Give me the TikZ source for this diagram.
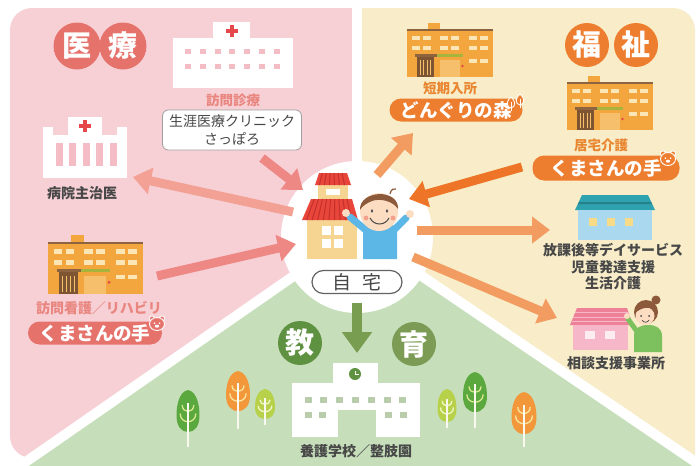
\documentclass[tikz,border=0pt]{standalone}
\usepackage{fontspec}
\setmainfont{Noto Sans CJK JP}
\usetikzlibrary{arrows.meta}

\definecolor{pinkbg}{HTML}{F7D0D6}
\definecolor{yellowbg}{HTML}{F8EDC8}
\definecolor{greenbg}{HTML}{C6DFBA}
\definecolor{medred}{HTML}{E5736C}
\definecolor{welforange}{HTML}{EE7E2F}
\definecolor{edudark}{HTML}{5E9140}
\definecolor{eduolive}{HTML}{7C9C55}
\definecolor{salmontext}{HTML}{E98680}
\definecolor{orangetext}{HTML}{E98631}
\definecolor{darktext}{HTML}{474747}
\definecolor{winpink}{HTML}{F4BDC6}
\definecolor{crossred}{HTML}{E5474A}
\definecolor{bldorange}{HTML}{F2A63D}
\definecolor{bldbrown}{HTML}{8E6440}
\definecolor{wincream}{HTML}{FCE6B6}
\definecolor{awngreen}{HTML}{A6B43E}
\definecolor{doorbrown}{HTML}{7E5532}
\definecolor{openorange}{HTML}{F6BF6C}
\definecolor{roofred}{HTML}{E8453B}
\definecolor{roofdark}{HTML}{C4302A}
\definecolor{housetan}{HTML}{F6D492}
\definecolor{skin}{HTML}{FCDDC2}
\definecolor{hairbrown}{HTML}{8C5A3A}
\definecolor{shirtblue}{HTML}{5DB7E6}
\definecolor{arrpink}{HTML}{EE8884}
\definecolor{arrpinklight}{HTML}{F2A194}
\definecolor{arrorange}{HTML}{F39C62}
\definecolor{arrorangedark}{HTML}{EE7527}
\definecolor{arrgreen}{HTML}{789C50}
\definecolor{roofteal}{HTML}{2EA2AE}
\definecolor{houseblue}{HTML}{AAD9EF}
\definecolor{winyellow}{HTML}{F8DB86}
\definecolor{roofpink}{HTML}{EE8198}
\definecolor{housepink}{HTML}{F6B8C9}
\definecolor{shirtgreen}{HTML}{7DC15E}
\definecolor{leafgreen}{HTML}{5BA83E}
\definecolor{leaforange}{HTML}{F2983A}
\definecolor{leaflime}{HTML}{B7D14B}
\definecolor{branchgreen}{HTML}{D8EA8E}
\definecolor{branchorange}{HTML}{FBE6A2}
\definecolor{branchlime}{HTML}{F1F6C4}
\definecolor{trunkwhite}{HTML}{F8F8EE}
\definecolor{schoolwin}{HTML}{B9CCAC}

\newcommand\jfs[1]{\fontsize{#1}{#1}\selectfont}

% orange apartment block, origin at top-left
\newcommand\aptbldg[3]{%
  \begin{scope}[shift={(#1,#2)},scale=#3]
    \fill[bldorange] (21,0) rectangle (33,8);
    \fill[bldorange] (0,6) rectangle (86,54);
    \fill[bldbrown] (0,6) rectangle (86,8.2);
    \foreach \wy in {13,23}
      \foreach \wx in {5,16,33,44,62,73}
        \fill[wincream] (\wx,\wy) rectangle ++(8,4);
    \foreach \wx in {62,73}
      \fill[wincream] (\wx,36) rectangle ++(8,4);
    \fill[bldbrown] (8,31) rectangle (30,34);
    \fill[awngreen] (30,31) rectangle (56,34);
    \fill[doorbrown] (10,34) rectangle (27,54);
    \foreach \dx in {13,16.5,20,23.5}
      \draw[openorange, line width=0.7pt] (\dx,37) -- (\dx,52);
    \fill[openorange] (33,37) rectangle (53,54);
    \fill[crossred] (55.5,43) circle (1.4pt);
  \end{scope}}

% egg-shaped tree: cx, top, width, height, trunk bottom, leaf colour, branch colour
\newcommand\leaftree[7]{%
  \fill[#6] (#1,#2) .. controls ({#1+0.4*#3},{#2+0.04*#4}) and ({#1+0.5*#3},{#2+0.38*#4}) .. ({#1+0.5*#3},{#2+0.6*#4})
     .. controls ({#1+0.5*#3},{#2+0.86*#4}) and ({#1+0.3*#3},{#2+#4}) .. (#1,{#2+#4})
     .. controls ({#1-0.3*#3},{#2+#4}) and ({#1-0.5*#3},{#2+0.86*#4}) .. ({#1-0.5*#3},{#2+0.6*#4})
     .. controls ({#1-0.5*#3},{#2+0.38*#4}) and ({#1-0.4*#3},{#2+0.04*#4}) .. (#1,#2) -- cycle;
  \draw[#7, line width=1.3pt] ({#1-0.25*#3},{#2+0.36*#4}) .. controls ({#1-0.25*#3},{#2+0.56*#4}) and ({#1+0.25*#3},{#2+0.56*#4}) .. ({#1+0.25*#3},{#2+0.36*#4});
  \draw[#7, line width=1.3pt] ({#1-0.34*#3},{#2+0.56*#4}) .. controls ({#1-0.34*#3},{#2+0.82*#4}) and ({#1+0.34*#3},{#2+0.82*#4}) .. ({#1+0.34*#3},{#2+0.56*#4});
  \draw[trunkwhite, line width=1.4pt] (#1,{#2+0.3*#4}) -- (#1,#5);
}

% small bear face for the pill labels
\newcommand\bearicon[3]{%
  \begin{scope}[shift={(#1,#2)}]
    \filldraw[fill=#3, draw=white, line width=0.9pt] (-5,-5.5) circle (2.6pt) (5,-5.5) circle (2.6pt);
    \filldraw[fill=#3, draw=white, line width=0.9pt] (0,0) ellipse (7.5pt and 6.5pt);
    \fill[white] (-2.6,-0.8) circle (0.9pt) (2.6,-0.8) circle (0.9pt);
    \fill[white] (0,2.2) ellipse (2.2pt and 1.5pt);
  \end{scope}}

\tikzset{
  badge/.style={circle, minimum size=#1, inner sep=0pt, text=white, font=\jfs{29}\bfseries},
  fatarrow/.style={line width=9pt, -{Triangle[length=18pt, width=26pt]}},
  pill/.style={rounded corners=11.5pt, text=white, font=\jfs{18.5}\bfseries, inner sep=0pt},
  lbl/.style={font=\jfs{14}\bfseries, text=darktext, inner sep=0pt},
  pinklbl/.style={font=\jfs{14}\bfseries, text=salmontext, inner sep=0pt},
  orangelbl/.style={font=\jfs{13.5}\bfseries, text=orangetext, inner sep=0pt},
}

\begin{document}
\begin{tikzpicture}[x=1pt,y=-1pt]
\useasboundingbox (0,0) rectangle (697,466);
\fill[white] (0,0) rectangle (697,466);

% ---- three sectors ----
\begin{scope}
  \clip (0,0) rectangle (357,466);
  \fill[pinkbg, rounded corners=22pt] (10,8) rectangle (420,458);
\end{scope}
\begin{scope}
  \clip (357,0) rectangle (697,466);
  \fill[yellowbg, rounded corners=22pt] (300,8) rectangle (695,480);
\end{scope}
\fill[greenbg] (357,232) -- (-200,618.6) -- (900,601) -- cycle;
\draw[white, line width=10pt] (357,-5) -- (357,232);
\draw[white, line width=10pt] (357,232) -- (-200,618.6);
\draw[white, line width=10pt] (357,232) -- (900,601);
\fill[white] (357,237) circle (76pt);

% ---- medical sector ----
\node[badge=47pt, fill=medred] (iryo1) at (77,46) {医};
\node[badge=47pt, fill=medred] (iryo2) at (123,46) {療};

% clinic building
\fill[white] (213,22) rectangle (250,39);
\fill[white] (173,38) rectangle (293,88);
\fill[crossred] (229.7,25) rectangle (234.3,37);
\fill[crossred] (226,28.7) rectangle (238,33.3);
\foreach \i in {0,...,6} {
  \fill[winpink] ({188+\i*14.8-3},49) rectangle ++(6,5);
  \fill[winpink] ({188+\i*14.8-3},64) rectangle ++(6,5);
}
\node[pinklbl, font=\jfs{13.5}\bfseries] (houmon) at (233,100) {訪問診療};
\node[draw=gray!75, line width=0.8pt, fill=white, rounded corners=6pt,
      minimum width=139pt, minimum height=40pt, align=center, inner sep=0pt,
      font=\fontsize{14}{18}\selectfont, text=darktext] (clinic) at (232,130)
      {生涯医療クリニック\\さっぽろ};

% hospital
\fill[white] (43,127) rectangle (53,136);
\fill[white] (68,117) rectangle (102,136);
\fill[white] (117,127) rectangle (127,136);
\fill[white] (43,135) rectangle (127,178);
\fill[crossred] (83,119.5) rectangle (87,131.5);
\fill[crossred] (79,123.5) rectangle (91,127.5);
\foreach \i in {0,...,4}
  \fill[winpink] ({59+\i*13.5-3.5},143) rectangle ++(7,23);
\node[lbl] (byoin) at (82,193) {病院主治医};

% visiting nurse office
\aptbldg{48}{235}{1.1}
\node[pinklbl] (kango) at (99,308) {訪問看護／リハビリ};
\node[pill, fill=medred, minimum width=134pt, minimum height=23pt] (kumaL) at (95,333) {くまさんの手\hspace{8pt}};
\bearicon{157}{324}{medred}

% ---- welfare sector ----
\node[badge=44pt, fill=welforange] (fuku1) at (587,45) {福};
\node[badge=44pt, fill=welforange] (fuku2) at (636,45) {祉};

\aptbldg{407}{23}{1.0}
\node[orangelbl] (tanki) at (450,88) {短期入所};
\node[pill, fill=welforange, minimum width=133pt, minimum height=23pt] (donguri) at (456,110) {どんぐりの森\hspace{10pt}};
% little trees on the pill
\foreach \tx/\ty in {511/97, 520/94} {
  \draw[white, line width=0.9pt, fill=welforange] (\tx,\ty) .. controls ({\tx+5},{\ty+4}) and ({\tx+5},{\ty+10}) .. (\tx,{\ty+11})
     .. controls ({\tx-5},{\ty+10}) and ({\tx-5},{\ty+4}) .. (\tx,\ty) -- cycle;
  \draw[white, line width=0.9pt] (\tx,{\ty+5}) -- (\tx,{\ty+14});
}

\aptbldg{567}{76}{1.0}
\node[orangelbl] (kyotaku) at (601,145) {居宅介護};
\node[pill, fill=welforange, minimum width=147pt, minimum height=25pt] (kumaR) at (606,168) {くまさんの手\hspace{8pt}};
\bearicon{668}{159}{welforange}

% day service house
\fill[roofteal] (575,210) -- (582,195) -- (648,195) -- (655,210) -- cycle;
\fill[roofteal!80!black] (579,202) -- (651,202) -- (652,204) -- (578,204) -- cycle;
\fill[houseblue] (578,210) rectangle (652,240);
\foreach \wx in {593,611,629}
  \fill[winyellow] ({\wx-4},218) rectangle ++(8,8);
\node[lbl, align=center, font=\fontsize{14}{16.5}\selectfont\bfseries] (dayserv) at (613,267)
  {放課後等デイサービス\\児童発達支援\\生活介護};

% consultation office
\fill[roofpink] (570,325) -- (577,308) -- (627,308) -- (633,325) -- cycle;
\foreach \ry/\rl/\rr in {312/575/629, 317/573/631, 321/572/632}
  \draw[housepink, line width=1pt] (\rl,\ry) -- (\rr,\ry);
\fill[housepink] (573,325) rectangle (628,350);
\fill[white!75!housepink] (585,331) rectangle ++(10,8);
\fill[white!75!housepink] (605,331) rectangle ++(10,8);
% staff member
\fill[shirtgreen] (634,352) -- (634,336) .. controls (634,328) and (640,325) .. (648,325)
   .. controls (656,325) and (662,328) .. (662,336) -- (662,352) -- cycle;
\draw[shirtgreen, line width=5pt, line cap=round] (638,333) -- (628,319);
\fill[skin] (627,316) circle (3pt);
\fill[hairbrown] (646,312) circle (12pt);
\fill[hairbrown] (656,300) circle (4.5pt);
\fill[skin] (645,316) ellipse (9.5pt and 9pt);
\fill[hairbrown] (635,313) .. controls (636,302) and (652,300) .. (656,310) .. controls (650,306) and (642,307) .. (635,313) -- cycle;
\fill[darktext] (641,316) circle (1pt) (649,316) circle (1pt);
\draw[darktext, line width=0.7pt] (642,320) .. controls (644,323) and (647,323) .. (649,320);
\node[lbl] (soudan) at (616,363) {相談支援事業所};

% ---- home in the centre ----
\fill[housetan] (307,218) rectangle (357,259);
\fill[housetan] (318,184) rectangle (348,201);
\fill[white] (326,189) rectangle (340,195);
\fill[roofred] (315,185) -- (319,173) -- (347,173) -- (351,185) -- cycle;
\foreach \t in {0.12,0.26,0.4,0.54,0.68,0.82}
  \draw[roofdark, line width=1pt] ({319+28*\t},173) -- ({315+36*\t},185);
\fill[roofred] (302,220) -- (311,199) -- (352,199) -- (358,220) -- cycle;
\foreach \t in {0.08,0.18,0.28,0.38,0.48,0.58,0.68,0.78,0.88}
  \draw[roofdark, line width=1pt] ({311+41*\t},199) -- ({302+56*\t},220);
\foreach \wx/\wy in {322/226, 334/226, 322/239, 334/239}
  \fill[white] (\wx,\wy) rectangle ++(9,9);
% child
\draw[shirtblue, line width=7pt, line cap=round] (367,231) -- (350,217);
\draw[shirtblue, line width=7pt, line cap=round] (393,231) -- (406,218);
\fill[skin] (346,213) circle (4pt);
\fill[skin] (410,214) circle (4pt);
\fill[shirtblue] (363,259) -- (363,233) .. controls (363,225) and (370,222) .. (380,222)
   .. controls (390,222) and (397,225) .. (397,233) -- (397,259) -- cycle;
\fill[skin] (379,212) circle (19pt);
\fill[hairbrown] (360,210) .. controls (359,190) and (399,188) .. (398,209)
   .. controls (393,201) and (380,198) .. (372,201) .. controls (367,203) and (362,206) .. (360,210) -- cycle;
\draw[hairbrown, line width=1.2pt] (390,194) .. controls (391,189) and (394,188) .. (396,189);
\fill[darktext] (372,211) ellipse (1.2pt and 1.8pt) (387,211) ellipse (1.2pt and 1.8pt);
\draw[darktext, line width=1pt] (370,218) .. controls (374,226) and (385,226) .. (389,218);
\fill[roofred!40!skin] (366,218) circle (2.4pt) (393,218) circle (2.4pt);
\node[draw=darktext!85, line width=1.2pt, fill=white, rounded corners=11.5pt,
      minimum width=90pt, minimum height=23pt, inner sep=0pt,
      font=\jfs{19}, text=darktext] (jitaku) at (357,282) {自\hspace{0.6em}宅};

% ---- education sector ----
\node[badge=44pt, fill=edudark] (kyo1) at (300,343) {教};
\node[badge=44pt, fill=eduolive] (kyo2) at (414,344) {育};

\fill[white] (333,363) rectangle (378,384);
\fill[white] (292,383) rectangle (420,437);
\fill[greenbg] (338,410) rectangle (376,437.5);
\fill[edudark] (355,374) circle (6pt);
\draw[white, line width=0.9pt] (355,370.5) -- (355,374) -- (358.5,374);
\foreach \i in {0,...,6}
  \fill[schoolwin] ({308+\i*15.8-3.5},397) rectangle ++(7,6);
\foreach \wx in {308,322,388,403}
  \fill[schoolwin] ({\wx-3.5},412) rectangle ++(7,6);
\node[lbl] (school) at (356,451) {養護学校／整肢園};

\leaftree{188}{390}{23}{42}{447}{leafgreen}{branchgreen}
\leaftree{238}{371}{24}{40}{429}{leaforange}{branchorange}
\leaftree{265}{389}{20}{30}{425}{leaflime}{branchlime}
\leaftree{447}{389}{19}{33}{428}{leaflime}{branchlime}
\leaftree{475}{372}{24}{40}{428}{leafgreen}{branchgreen}
\leaftree{524}{392}{25}{42}{447}{leaforange}{branchorange}

% ---- arrows ----
\coordinate (clinicOut) at (262,158);
\coordinate (homeNW) at (303,190);
\coordinate (homeW) at (293,212);
\coordinate (byoinIn) at (133,177);
\coordinate (kangoOut) at (157,276);
\coordinate (homeSW) at (296,244);
\coordinate (homeNE) at (377,175);
\coordinate (donguriIn) at (413,133);
\coordinate (kumaROut) at (522,167);
\coordinate (childNE) at (409,199);
\coordinate (childE) at (417,230);
\coordinate (dayIn) at (550,230);
\coordinate (childSE) at (413,257);
\coordinate (soudanIn) at (557,318);
\coordinate (homeS) at (357,303);
\coordinate (schoolIn) at (357,353);

\draw[fatarrow, arrpink] (clinicOut) -- (homeNW);
\draw[fatarrow, arrpinklight] (homeW) -- (byoinIn);
\draw[fatarrow, arrpink] (kangoOut) -- (homeSW);
\draw[fatarrow, arrorange] (homeNE) -- (donguriIn);
\draw[fatarrow, arrorangedark] (kumaROut) -- (childNE);
\draw[fatarrow, arrorange] (childE) -- (dayIn);
\draw[fatarrow, arrorange] (childSE) -- (soudanIn);
\draw[arrgreen, line width=10pt, -{Triangle[length=21pt, width=29pt]}] (homeS) -- (schoolIn);
\end{tikzpicture}
\end{document}
